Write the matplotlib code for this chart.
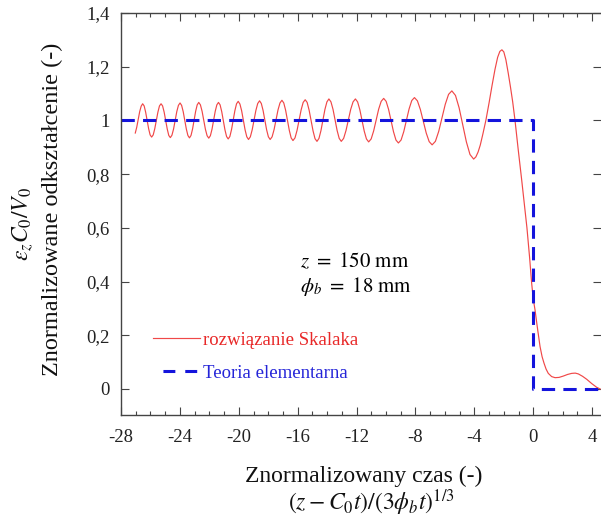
import matplotlib
matplotlib.use('Agg')
import matplotlib.pyplot as plt
from matplotlib.lines import Line2D
from matplotlib.ticker import MultipleLocator, FuncFormatter

plt.rcParams['font.family'] = ['Liberation Serif', 'DejaVu Serif']
plt.rcParams['mathtext.fontset'] = 'stix'

skalak_x = [
    -27.03, -26.93, -26.83, -26.73, -26.63, -26.53,
    -26.428, -26.327, -26.225, -26.123, -26.022, -25.92,
    -25.813, -25.707, -25.60, -25.493, -25.387, -25.28,
    -25.175, -25.07, -24.965, -24.86, -24.755, -24.65,
    -24.54, -24.43, -24.32, -24.21, -24.10, -23.99,
    -23.883, -23.777, -23.67, -23.563, -23.457, -23.35,
    -23.245, -23.14, -23.035, -22.93, -22.825, -22.72,
    -22.607, -22.493, -22.38, -22.267, -22.153, -22.04,
    -21.93, -21.82, -21.71, -21.60, -21.49, -21.38,
    -21.27, -21.16, -21.05, -20.94, -20.83, -20.72,
    -20.607, -20.493, -20.38, -20.267, -20.153, -20.04,
    -19.923, -19.807, -19.69, -19.573, -19.457, -19.34,
    -19.215, -19.09, -18.965, -18.84, -18.715, -18.59,
    -18.47, -18.35, -18.23, -18.11, -17.99, -17.87,
    -17.737, -17.603, -17.47, -17.337, -17.203, -17.07,
    -16.945, -16.82, -16.695, -16.57, -16.445, -16.32,
    -16.182, -16.043, -15.905, -15.767, -15.628, -15.49,
    -15.357, -15.223, -15.09, -14.957, -14.823, -14.69,
    -14.555, -14.42, -14.285, -14.15, -14.015, -13.88,
    -13.74, -13.60, -13.46, -13.32, -13.18, -13.04,
    -12.88, -12.72, -12.56, -12.40, -12.24, -12.08,
    -11.93, -11.78, -11.63, -11.48, -11.33, -11.18,
    -11.01, -10.84, -10.67, -10.50, -10.33, -10.16,
    -9.993, -9.827, -9.66, -9.493, -9.327, -9.16,
    -8.978, -8.797, -8.615, -8.433, -8.252, -8.07,
    -7.87, -7.67, -7.47, -7.27, -7.07, -6.87,
    -6.647, -6.423, -6.20, -5.977, -5.753, -5.53,
    -5.283, -5.037, -4.79, -4.543, -4.297, -4.05,
    -3.90, -3.75, -3.60, -3.42, -3.22, -3.00, -2.80, -2.60, -2.42, -2.27, -2.13,
    -2.00, -1.86, -1.70, -1.55, -1.40, -1.24,
    -1.02, -0.79, -0.60, -0.43, -0.25, -0.11,
    0.0, 0.12, 0.27, 0.46, 0.60, 0.73,
    0.87, 1.02, 1.25, 1.48, 1.75, 2.04,
    2.33, 2.61, 2.85, 3.06, 3.35, 3.63,
    3.97, 4.31, 4.54]
skalak_y = [
    0.953, 0.975, 1.005, 1.033, 1.053, 1.062,
    1.054, 1.031, 1.000, 0.969, 0.946, 0.938,
    0.946, 0.969, 1.000, 1.031, 1.054, 1.062,
    1.054, 1.031, 0.999, 0.968, 0.944, 0.936,
    0.945, 0.968, 1.000, 1.033, 1.056, 1.065,
    1.056, 1.033, 1.000, 0.968, 0.944, 0.935,
    0.944, 0.968, 1.001, 1.034, 1.058, 1.067,
    1.058, 1.034, 1.000, 0.967, 0.943, 0.934,
    0.943, 0.967, 1.000, 1.034, 1.058, 1.067,
    1.058, 1.033, 0.999, 0.965, 0.940, 0.931,
    0.940, 0.966, 1.001, 1.036, 1.062, 1.071,
    1.061, 1.036, 1.000, 0.965, 0.939, 0.929,
    0.939, 0.965, 1.001, 1.037, 1.063, 1.073,
    1.063, 1.037, 1.001, 0.965, 0.939, 0.929,
    0.939, 0.966, 1.002, 1.039, 1.065, 1.075,
    1.065, 1.038, 1.000, 0.963, 0.935, 0.925,
    0.935, 0.963, 1.001, 1.039, 1.067, 1.077,
    1.067, 1.038, 1.000, 0.961, 0.932, 0.922,
    0.933, 0.962, 1.001, 1.041, 1.069, 1.080,
    1.069, 1.041, 1.001, 0.962, 0.933, 0.922,
    0.933, 0.962, 1.001, 1.041, 1.069, 1.080,
    1.069, 1.040, 1.000, 0.960, 0.931, 0.920,
    0.931, 0.961, 1.001, 1.042, 1.071, 1.082,
    1.071, 1.041, 0.999, 0.958, 0.927, 0.916,
    0.927, 0.958, 1.000, 1.043, 1.074, 1.085,
    1.073, 1.041, 0.997, 0.953, 0.921, 0.909,
    0.922, 0.959, 1.010, 1.060, 1.097, 1.110,
    1.093, 1.047, 0.983, 0.920, 0.873, 0.856,
    0.864, 0.882, 0.908, 0.950, 1.000, 1.066, 1.130, 1.190, 1.235, 1.257, 1.263,
    1.255, 1.226, 1.176, 1.125, 1.070, 1.000,
    0.890, 0.780, 0.685, 0.600, 0.490, 0.394,
    0.335, 0.294, 0.232, 0.158, 0.120, 0.096,
    0.074, 0.058, 0.046, 0.042, 0.043, 0.048,
    0.054, 0.058, 0.059, 0.056, 0.047, 0.036,
    0.020, 0.006, 0.000]

# teoria elementarna (skok jednostkowy w zerze)
teoria_x = [-28, 0, 0, 4.6]
teoria_y = [1, 1, 0, 0]

x_ticks = list(range(-28, 5, 4))
y_ticks = [0, 0.2, 0.4, 0.6, 0.8, 1.0, 1.2, 1.4]

red = '#f04848'
blue = '#1414dc'

fig = plt.figure(figsize=(6.01, 5.21), dpi=100)
ax = fig.add_axes([121 / 601, 1 - 415 / 521, 480 / 601, 402 / 521])

ax.plot(skalak_x, skalak_y, color=red, lw=0.85)
ax.plot(teoria_x, teoria_y, color=blue, lw=2.2, linestyle=(0, (4.35, 2.7)))

ax.set_xlim(-28, 4.6)
ax.set_ylim(-0.097, 1.4)
ax.set_xticks(x_ticks)
ax.xaxis.set_minor_locator(MultipleLocator(1))
ax.set_yticks(y_ticks)
ax.yaxis.set_major_formatter(FuncFormatter(lambda v, p: '{:g}'.format(round(v, 2)).replace('.', ',')))
ax.xaxis.set_major_formatter(FuncFormatter(lambda v, p: '{:d}'.format(int(round(v)))))

for side in ['left', 'bottom', 'top']:
    ax.spines[side].set_color('#444444')
    ax.spines[side].set_linewidth(1.0)
ax.spines['right'].set_visible(False)

ax.tick_params(which='both', direction='in', top=True, right=True, colors='#444444',
               labelcolor='#222222', labelsize=13.5)
ax.tick_params(which='major', length=5.5, width=0.8)
ax.tick_params(which='minor', length=3, width=0.8)
ax.tick_params(axis='x', pad=10)
ax.tick_params(axis='y', pad=8)

ax.text(-15.87, 0.474, r'$z\ =\ 150\ \mathrm{mm}$', fontsize=15, ha='left', va='center')
ax.text(-15.87, 0.381, r'$\phi_b\ =\ 18\ \mathrm{mm}$', fontsize=15, ha='left', va='center')

h_red = Line2D([], [], color=red, lw=0.85)
h_blue = Line2D([], [], color=blue, lw=2.2, linestyle=(3.9, (3.9, 3.25)))
leg = ax.legend([h_red, h_blue], ['rozwiązanie Skalaka', 'Teoria elementarna'],
                loc='center left', bbox_to_anchor=(0.066, 0.1455), frameon=False,
                fontsize=13.5, handlelength=2.5, handletextpad=0.2, labelspacing=0.85,
                borderpad=0, borderaxespad=0)
leg.get_texts()[0].set_color('#e82828')
leg.get_texts()[1].set_color('#2424d8')

# opisy osi
fig.text(52 / 601, 1 - 209 / 521, 'Znormalizowane odkształcenie (-)', rotation=90,
         fontsize=17.5, ha='center', va='center', color='#111111')
fig.text(23 / 601, 1 - 224 / 521, r'$\varepsilon_z C_0/V_0$', rotation=90,
         fontsize=17, ha='center', va='center', color='#111111')
fig.text(364 / 601, 1 - 476 / 521, 'Znormalizowany czas (-)',
         fontsize=17, ha='center', va='center', color='#111111')
fig.text(371 / 601, 1 - 503 / 521, r'$(z - C_0t)/\left(3\phi_b t\right)^{1/3}$',
         fontsize=17, ha='center', va='center', color='#111111')

fig.savefig('out.png', dpi=100)
